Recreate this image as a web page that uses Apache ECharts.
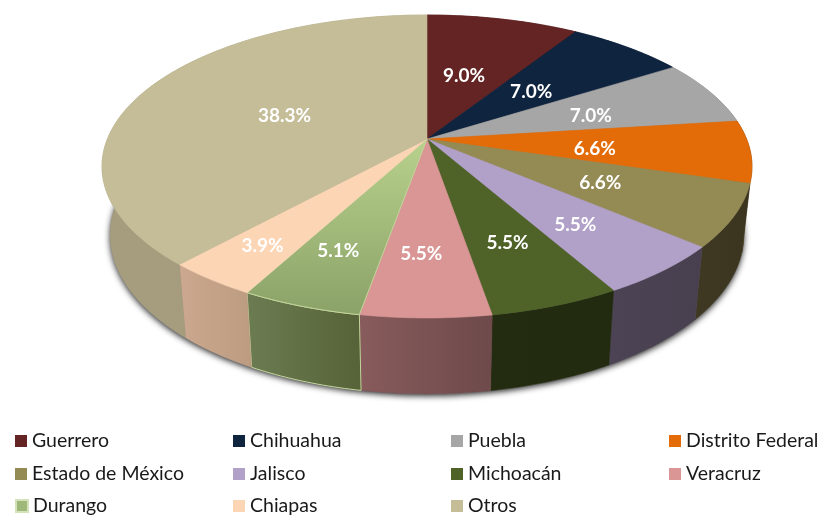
<!DOCTYPE html>
<html>
<head>
<meta charset="utf-8">
<style>
  html, body { margin: 0; padding: 0; background: #fff; }
  #chart { width: 823px; height: 515px; }
</style>
<script src="https://cdn.jsdelivr.net/npm/echarts@6/dist/echarts.min.js"></script>
</head>
<body>
<div id="chart"></div>
<script>
  const categories = ['Guerrero', 'Chihuahua', 'Puebla', 'Distrito Federal', 'Estado de México', 'Jalisco', 'Michoacán', 'Veracruz', 'Durango', 'Chiapas', 'Otros']
  const shares = [9.0, 7.0, 7.0, 6.64, 6.64, 5.54, 5.5, 5.46, 5.06, 3.86, 38.3]

  const topColors = ['#632423', '#0f243e', '#a6a6a6', '#e36c09', '#948a54', '#b1a0c7', '#4f6228', '#d99694', '#a9c27d', '#fcd5b5', '#c4bd97']
  const wallColors = [
    ['#4a1b1a', '#4a1b1a'], ['#0b1b2e', '#0b1b2e'], ['#7c7c7c', '#7c7c7c'], ['#6e3a10', '#4d3a1a'],
    ['#3f3923', '#3b3520'], ['#4c4354', '#48404f'], ['#232c10', '#222a0f'], ['#885b5c', '#6e4a4b'],
    ['#6c7c52', '#566237'], ['#cba88f', '#bc9c80'], ['#a59d7e', '#a39b7c']
  ]

  // projection of the tilted disc, fitted on the reference
  const cx = 427
  const cy = 139
  const radiusX = 319.6
  const radiusY = 146.5
  const persp = 0.1815

  function projectTop(pct, r) {
    const a = (pct / 100) * Math.PI * 2
    const X = Math.sin(a) * r
    const Y = -Math.cos(a) * r
    const s = 1 / (1 - persp * Y)
    return [cx + radiusX * X * s, cy + radiusY * Y * s]
  }
  function toBottom(p) {
    return [cx + (p[0] - cx) * 0.975, p[1] * 1.05 + 60]
  }
  function arc(from, to) {
    const pts = []
    const n = Math.max(2, Math.ceil((to - from) * 4))
    for (let i = 0; i <= n; i++) pts.push(projectTop(from + ((to - from) * i) / n, 1))
    return pts
  }

  // hand nudges for the percent labels, Excel does not put them on a clean radius
  const labelNudge = [[-4, 2], [-2, 2], [18, 1], [2, 4], [-3, 0], [2, 4], [-3, -4], [-5, -3], [-7, 4], [-29, 19], [2, 2]]
  function labelRadius(pct) {
    const front = Math.max(0, -Math.cos((pct / 100) * Math.PI * 2))
    return 0.5 + 0.2 * front
  }

  const starts = []
  shares.reduce((sum, v, i) => {
    starts[i] = sum
    return sum + v
  }, 0)

  const baseSeries = {
    type: 'custom',
    name: 'base',
    coordinateSystem: 'none',
    silent: true,
    z: 1,
    data: [[0, 100]],
    renderItem: (params, api) => ({
      type: 'polygon',
      shape: { points: arc(api.value(0), api.value(1)).map(toBottom) },
      style: { fill: '#888', shadowBlur: 6, shadowColor: 'rgba(0,0,0,0.85)', shadowOffsetY: 2 },
    }),
  }

  const topSeries = categories.map((name, i) => ({
    type: 'custom',
    name: name,
    coordinateSystem: 'none',
    z: 3,
    itemStyle: { color: topColors[i] },
    data: [[starts[i], shares[i]]],
    renderItem: (params, api) => {
      const from = api.value(0)
      const to = from + api.value(1)
      const mid = (from + to) / 2
      const lp = projectTop(mid, labelRadius(mid))
      const isDurango = name === 'Durango'
      const fill = isDurango
        ? new echarts.graphic.LinearGradient(0, 0, 0, 1, [
            { offset: 0, color: '#b8d18c' },
            { offset: 1, color: '#8ba268' },
          ])
        : topColors[i]
      return {
        type: 'group',
        children: [
          {
            type: 'polygon',
            shape: { points: [[cx, cy]].concat(arc(from, to)) },
            style: { fill: fill, stroke: isDurango ? '#c3d69b' : topColors[i], lineWidth: isDurango ? 1 : 0.6 },
          },
          {
            type: 'text',
            z2: 20,
            style: {
              text: api.value(1).toFixed(1) + '%',
              x: lp[0] + labelNudge[i][0],
              y: lp[1] + labelNudge[i][1],
              fill: '#fff',
              font: 'bold 19px Lato',
              align: 'center',
              verticalAlign: 'middle',
            },
          },
        ],
      }
    },
  }))

  const wallSeries = categories.map((name, i) => ({
    type: 'custom',
    name: name,
    coordinateSystem: 'none',
    silent: true,
    z: 2,
    data: [[starts[i], shares[i]]],
    renderItem: (params, api) => {
      const from = api.value(0)
      const rim = arc(from, from + api.value(1))
      const isDurango = name === 'Durango'
      return {
        type: 'polygon',
        shape: { points: rim.concat(rim.slice().reverse().map(toBottom)) },
        style: {
          fill: new echarts.graphic.LinearGradient(0, 0, 1, 0, [
            { offset: 0, color: wallColors[i][0] },
            { offset: 1, color: wallColors[i][1] },
          ]),
          stroke: isDurango ? '#c3d69b' : wallColors[i][1],
          lineWidth: isDurango ? 1 : 0.4,
        },
      }
    },
  }))

  // one legend per entry, the 4 x 3 grid does not fit in a single wrapped legend here
  const legendLeft = [15, 233, 451, 669]
  const legendTop = [431, 464, 496]
  const legends = categories.map((c, i) => ({
    orient: 'horizontal',
    left: legendLeft[i % 4],
    top: legendTop[Math.floor(i / 4)],
    padding: 0,
    icon: 'rect',
    itemWidth: 12,
    itemHeight: 12,
    selectedMode: false,
    textStyle: { fontFamily: 'Lato', fontSize: 19.5, color: '#1a1a1a' },
    data: [
      c === 'Durango'
        ? { name: c, itemStyle: { color: '#9db878', borderColor: '#d3e2b8', borderWidth: 2 } }
        : { name: c },
    ],
  }))

  const myChart = echarts.init(document.getElementById('chart'))
  myChart.setOption({
    animation: false,
    legend: legends,
    series: topSeries.concat(wallSeries, [baseSeries]),
  })
</script>
</body>
</html>
